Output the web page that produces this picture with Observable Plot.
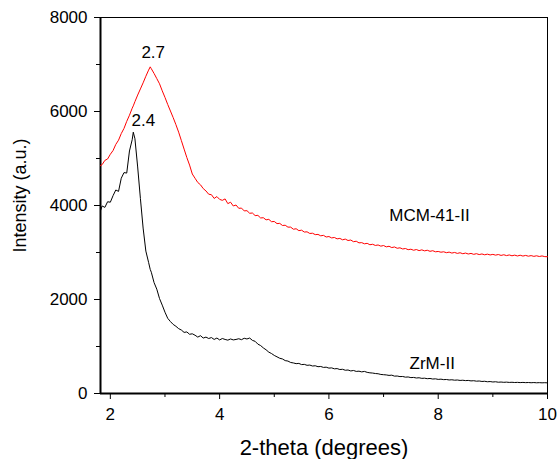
<!DOCTYPE html>
<html>
<head>
<meta charset="utf-8">
<script src="https://cdn.jsdelivr.net/npm/d3@7"></script>
<script src="https://cdn.jsdelivr.net/npm/@observablehq/plot@0.6"></script>
<style>
  html, body { margin: 0; padding: 0; background: #ffffff; }
  #chart svg { display: block; }
</style>
</head>
<body>
<div id="chart"></div>
<script>
// 2-theta sampling (degrees)
const twoTheta = [
  1.82, 1.85, 1.9, 1.95,
  2, 2.05, 2.1, 2.15, 2.2, 2.25, 2.3, 2.35, 2.4, 2.42, 2.45, 2.5, 2.55, 2.6, 2.65, 2.7, 2.73, 2.75, 2.8, 2.85, 2.9, 2.95,
  3, 3.05, 3.1, 3.15, 3.2, 3.25, 3.3, 3.35, 3.4, 3.45, 3.5, 3.55, 3.6, 3.65, 3.7, 3.75, 3.8, 3.85, 3.9, 3.95,
  4, 4.05, 4.1, 4.15, 4.2, 4.25, 4.3, 4.35, 4.4, 4.45, 4.5, 4.55, 4.6, 4.65, 4.7, 4.75, 4.8, 4.85, 4.9, 4.95,
  5, 5.05, 5.1, 5.15, 5.2, 5.25, 5.3, 5.35, 5.4, 5.45, 5.5, 5.55, 5.6, 5.65, 5.7, 5.75, 5.8, 5.85, 5.9, 5.95,
  6, 6.05, 6.1, 6.15, 6.2, 6.25, 6.3, 6.35, 6.4, 6.45, 6.5, 6.55, 6.6, 6.65, 6.7, 6.75, 6.8, 6.85, 6.9, 6.95,
  7, 7.05, 7.1, 7.15, 7.2, 7.25, 7.3, 7.35, 7.4, 7.45, 7.5, 7.55, 7.6, 7.65, 7.7, 7.75, 7.8, 7.85, 7.9, 7.95,
  8, 8.05, 8.1, 8.15, 8.2, 8.25, 8.3, 8.35, 8.4, 8.45, 8.5, 8.55, 8.6, 8.65, 8.7, 8.75, 8.8, 8.85, 8.9, 8.95,
  9, 9.05, 9.1, 9.15, 9.2, 9.25, 9.3, 9.35, 9.4, 9.45, 9.5, 9.55, 9.6, 9.65, 9.7, 9.75, 9.8, 9.85, 9.9, 9.95,
  10
];

// MCM-41-II intensity (a.u.)
const mcmIntensity = [
  4850, 4870, 4960, 4990,
  5090, 5170, 5300, 5390, 5530, 5640, 5790, 5920, 6070, 6120, 6210, 6350, 6480, 6610, 6750, 6880, 6950, 6910, 6810, 6700, 6590, 6440,
  6300, 6150, 6010, 5870, 5720, 5560, 5380, 5200, 5020, 4860, 4670, 4580, 4490, 4440, 4360, 4310, 4240, 4230, 4150, 4190,
  4130, 4110, 4140, 4040, 4070, 3990, 4010, 3940, 3945, 3885, 3890, 3835, 3840, 3785, 3790, 3735, 3740, 3695, 3705, 3655,
  3660, 3615, 3620, 3575, 3580, 3540, 3540, 3495, 3505, 3465, 3475, 3435, 3440, 3405, 3410, 3380, 3385, 3355, 3365, 3330,
  3340, 3310, 3320, 3290, 3300, 3270, 3285, 3255, 3265, 3230, 3240, 3205, 3210, 3185, 3195, 3165, 3175, 3150, 3160, 3135,
  3148, 3120, 3133, 3105, 3118, 3090, 3100, 3075, 3085, 3060, 3070, 3048, 3063, 3040, 3056, 3035, 3048, 3025, 3038, 3015,
  3022, 3006, 3015, 2996, 3008, 2988, 3001, 2981, 2995, 2974, 2988, 2968, 2981, 2961, 2975, 2956, 2969, 2951, 2965, 2948,
  2960, 2944, 2957, 2938, 2952, 2934, 2948, 2930, 2944, 2926, 2942, 2924, 2938, 2921, 2934, 2918, 2930, 2915, 2927, 2912,
  2910
];

// ZrM-II intensity (a.u.)
const zrmIntensity = [
  3890, 3990, 3960, 4080,
  4070, 4210, 4330, 4300, 4580, 4700, 4690, 5160, 5400, 5560, 5420, 4820, 4150, 3520, 3030, 2790, 2640, 2580, 2360, 2220, 2020, 1880,
  1730, 1600, 1530, 1470, 1430, 1380, 1350, 1300, 1310, 1260, 1270, 1240, 1200, 1230, 1180, 1200, 1170, 1190, 1150, 1180,
  1140, 1170, 1150, 1135, 1160, 1140, 1150, 1165, 1145, 1175, 1160, 1180, 1130, 1110, 1050, 1020, 970, 930, 880, 850,
  810, 780, 750, 735, 700, 690, 660, 650, 635, 640, 615, 620, 600, 605, 585, 590, 570, 575, 555, 560,
  540, 545, 525, 530, 510, 515, 495, 500, 480, 490, 470, 475, 460, 470, 450, 440, 435, 425, 420, 405,
  400, 395, 385, 390, 370, 372, 360, 362, 348, 352, 338, 342, 330, 335, 322, 326, 315, 320, 308, 312,
  300, 305, 295, 298, 288, 292, 283, 287, 278, 282, 274, 278, 268, 272, 262, 266, 256, 260, 250, 254,
  245, 250, 240, 244, 238, 242, 236, 239, 234, 237, 232, 236, 231, 234, 229, 233, 228, 231, 227, 230,
  226
];

// Axes
const xDomain = [1.82, 10];
const yDomain = [0, 8000];
const xTicks = [2, 4, 6, 8, 10];
const xMinorTicks = [3, 5, 7, 9];
const yTicks = [0, 2000, 4000, 6000, 8000];
const yMinorTicks = [1000, 3000, 5000, 7000];
const xTitle = "2-theta (degrees)";
const yTitle = "Intensity (a.u.)";

// Annotations
const peakX = [2.73, 2.42];
const peakY = [6950, 5560];
const peakText = ["2.7", "2.4"];
const seriesNames = ["MCM-41-II", "ZrM-II"];
const seriesLabelX = [7.84, 7.89];
const seriesLabelY = [3780, 640];

const table = twoTheta.map((x, i) => ({x, mcm: mcmIntensity[i], zrm: zrmIntensity[i]}));
const seriesLabels = seriesNames.map((name, i) => ({name, x: seriesLabelX[i], y: seriesLabelY[i]}));
const fmt = d => String(d);

const chart = Plot.plot({
  width: 559,
  height: 459,
  marginLeft: 100,
  marginRight: 12,
  marginTop: 17,
  marginBottom: 66,
  style: {fontFamily: "'Liberation Sans', Arial, sans-serif", background: "#ffffff", color: "#000000", overflow: "visible"},
  x: {domain: xDomain},
  y: {domain: yDomain},
  marks: [
    Plot.frame({stroke: "#000000", strokeWidth: 1}),
    Plot.ruleY([yDomain[0]], {stroke: "#000000", strokeWidth: 2}),
    Plot.ruleX([xDomain[0]], {stroke: "#000000", strokeWidth: 2}),
    Plot.axisX({ticks: xTicks, tickFormat: fmt, tickSize: 6, tickPadding: 8, fontSize: 17, label: null, stroke: "#000000", fill: "#000000"}),
    Plot.axisX({ticks: xMinorTicks, tickSize: 4, tickFormat: () => "", label: null, stroke: "#000000"}),
    Plot.axisY({ticks: yTicks, tickFormat: fmt, tickSize: 6, tickPadding: 7, fontSize: 17, label: null, stroke: "#000000", fill: "#000000"}),
    Plot.axisY({ticks: yMinorTicks, tickSize: 4, tickFormat: () => "", label: null, stroke: "#000000"}),
    Plot.line(table, {x: "x", y: "mcm", stroke: "#ff0000", strokeWidth: 1}),
    Plot.line(table, {x: "x", y: "zrm", stroke: "#000000", strokeWidth: 1}),
    Plot.text([0], {x: () => peakX[0], y: () => peakY[0], text: () => peakText[0], dx: 3, dy: -14, fontSize: 17, fill: "#000000"}),
    Plot.text([1], {x: () => peakX[1], y: () => peakY[1], text: () => peakText[1], dx: 10, dy: -12, fontSize: 17, fill: "#000000"}),
    Plot.text(seriesLabels, {x: "x", y: "y", text: "name", fontSize: 17, fill: "#000000"}),
    Plot.text([xTitle], {text: d => d, frameAnchor: "bottom", textAnchor: "middle", lineAnchor: "bottom", dy: 61, fontSize: 22, fill: "#000000"}),
    Plot.text([yTitle], {text: d => d, frameAnchor: "left", textAnchor: "middle", lineAnchor: "middle", dx: -80, dy: -10, rotate: -90, fontSize: 18, fill: "#000000"})
  ]
});

document.getElementById("chart").appendChild(chart);
</script>
</body>
</html>
